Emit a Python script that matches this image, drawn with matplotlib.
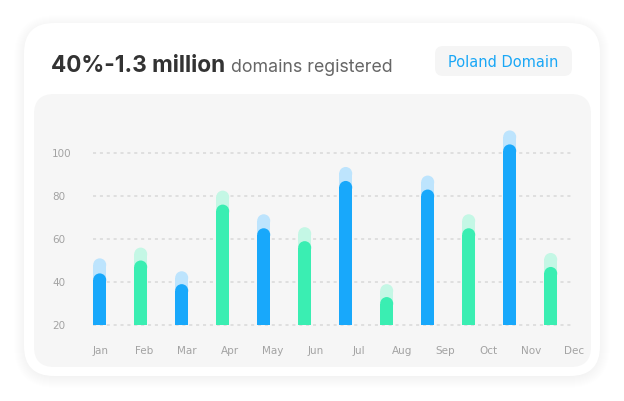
import numpy as np
import matplotlib.pyplot as plt
from matplotlib.patches import FancyBboxPatch, Ellipse

months = ["Jan", "Feb", "Mar", "Apr", "May", "Jun",
          "Jul", "Aug", "Sep", "Oct", "Nov", "Dec"]
values = [44, 50, 39, 76, 65, 59, 87, 33, 83, 65, 104, 47]
shadow = [51, 56, 45, 82.5, 71.5, 65.5, 93.5, 39, 89.5, 71.5, 110.5, 53.5]
y_ticks = [20, 40, 60, 80, 100]

BLUE, BLUE_LIGHT = "#18A8FB", "#BDE4FD"
GREEN, GREEN_LIGHT = "#3AEEB2", "#C4F7E5"
W, H = 624, 402

fig = plt.figure(figsize=(W / 100, H / 100), dpi=100)
fig.patch.set_facecolor("white")

# background layer in pixel coords
bg = fig.add_axes([0, 0, 1, 1])
bg.set_xlim(0, W)
bg.set_ylim(H, 0)
bg.axis("off")

# soft shadow around the card
for k in range(12, 0, -1):
    bg.add_patch(FancyBboxPatch((24 - k + 2, 24 - k + 4), 576 + 2 * k - 4, 353 + 2 * k - 4,
                                boxstyle=f"round,pad=0,rounding_size={30 + k}",
                                fc="#000000", ec="none", alpha=0.004))
bg.add_patch(FancyBboxPatch((24, 24), 576, 353, boxstyle="round,pad=0,rounding_size=30",
                            fc="white", ec="none"))
bg.add_patch(FancyBboxPatch((34, 95), 557, 273, boxstyle="round,pad=0,rounding_size=20",
                            fc="#F6F6F6", ec="none"))
bg.add_patch(FancyBboxPatch((435, 47), 137, 30, boxstyle="round,pad=0,rounding_size=8",
                            fc="#F5F5F5", ec="none"))

t1 = bg.text(51, 72, "40%-1.3 million", fontsize=16.3, fontweight="bold",
             family="Inter", color="#333333", va="baseline")
fig.canvas.draw()
ext = t1.get_window_extent()
bg.text(ext.x1 + 6, 72, "domains registered", fontsize=12.8,
        family="Inter", color="#666666", va="baseline")
bg.text(503, 62.5, "Poland Domain", fontsize=10.5, family="DejaVu Sans",
        color="#1AA7F5", ha="center", va="center")

# chart axes: bar i centred at 99.7 + 41*i px, value v at 326 - 2.15*(v-20) px
ax = fig.add_axes([34 / W, (H - 368) / H, 557 / W, 273 / H])
ax.patch.set_alpha(0)
x0 = (34 - 99.7) / 41
x1 = (591 - 99.7) / 41
ax.set_xlim(x0, x1)
ax.set_ylim(20 - (368 - 326) / 2.15, 20 + (326 - 95) / 2.15)
ax.axis("off")

x = np.arange(len(months))
for v in y_ticks:
    ax.hlines(v, -0.163, 11.51, colors="#D8D8D8", linewidth=1.1,
              linestyles=(0, (2, 2.5)), zorder=1)
    ax.text(x0 + (52 - 34) / 41, v, str(v), fontsize=7.5, color="#A3A3A3",
            ha="left", va="center")

bw = 13 / 41
r = 6.5 / 2.15


def round_bar(xi, top, color, z):
    ax.bar(xi, top - r - 20, bottom=20, width=bw, color=color, zorder=z, linewidth=0)
    ax.add_patch(Ellipse((xi, top - r), bw, 2 * r, fc=color, ec="none", zorder=z))


for i, m in enumerate(months):
    dark = BLUE if i % 2 == 0 else GREEN
    light = BLUE_LIGHT if i % 2 == 0 else GREEN_LIGHT
    round_bar(x[i], shadow[i], light, 2)
    round_bar(x[i], values[i], dark, 3)
    # month labels run on a slightly wider spacing than the bars
    ax.text((101 + 43 * i - 99.7) / 41, 20 - (351 - 326) / 2.15, m, fontsize=7.5,
            color="#A3A3A3", ha="center", va="center", clip_on=False)

fig.savefig("out.png", dpi=100)
